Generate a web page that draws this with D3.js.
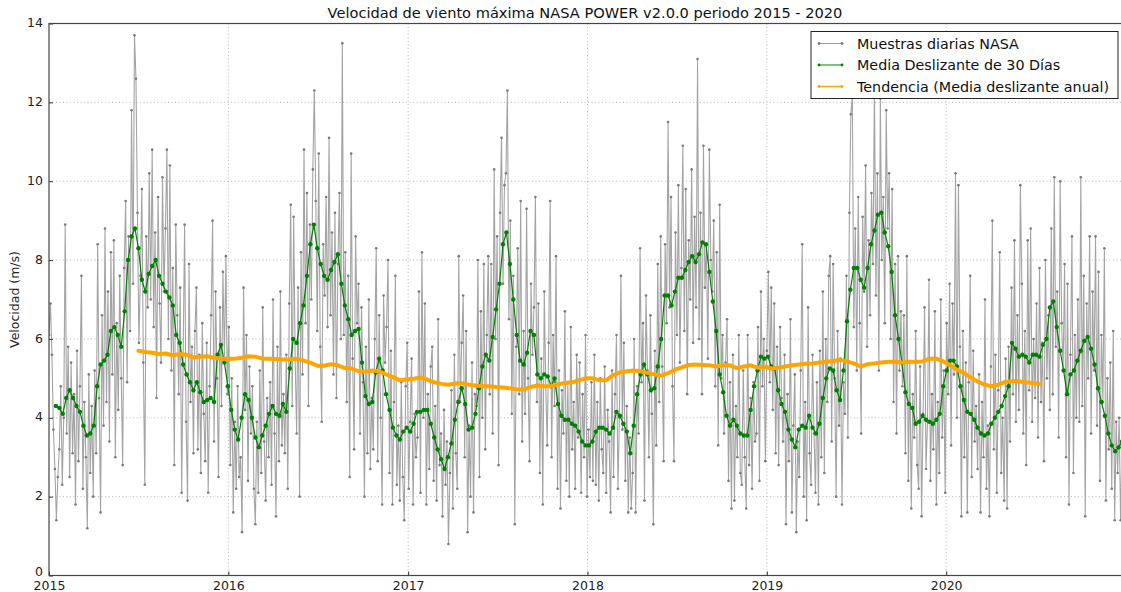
<!DOCTYPE html>
<html lang="es">
<head>
    <meta charset="UTF-8">
    <title>Velocidad de viento máxima NASA POWER</title>
    <script src="https://cdn.jsdelivr.net/npm/d3@7"></script>
    <style>
        body {
            margin: 0;
            background: #fff;
            font-family: 'DejaVu Sans', sans-serif;
        }
        svg { display: block; }
        .tick text { font-family: 'DejaVu Sans', sans-serif; font-size: 12.5px; fill: #222; }
    </style>
</head>
<body>
    <svg id="chart" width="1121" height="592"></svg>

    <script>
        // daily samples (one value read every 3 days, starting 2015-01-01)
        const dailyStart = "2015-01-01";
        const dailyStep = 3;
        const dailyValues = [
            6.1, 6.9, 5.6, 3.7, 2.7, 1.4, 2.5, 3.2, 4.8, 2.3,
            4.0, 8.9, 3.6, 5.8, 2.5, 5.4, 3.1, 4.6, 1.8, 5.7,
            2.9, 4.8, 7.6, 2.2, 4.4, 3.0, 1.2, 5.1, 2.6, 4.3,
            2.0, 5.2, 3.1, 8.4, 4.5, 1.6, 6.6, 3.8, 8.8, 4.4,
            7.2, 3.4, 8.2, 5.1, 8.5, 3.0, 6.4, 4.2, 7.6, 5.0,
            2.8, 7.8, 9.5, 4.9, 8.6, 6.2, 11.8, 7.4, 13.7, 12.6,
            9.2, 5.9, 7.6, 9.8, 5.4, 2.3, 8.6, 6.8, 10.2, 7.0,
            10.8, 6.3, 8.7, 4.5, 9.6, 6.9, 5.4, 10.1, 7.2, 8.8,
            10.8, 6.0, 10.4, 5.2, 7.8, 2.8, 8.9, 6.6, 4.6, 7.3,
            2.1, 5.6, 8.9, 3.9, 1.9, 7.9, 4.4, 5.8, 3.1, 6.2,
            7.3, 3.2, 5.6, 2.6, 6.4, 4.1, 2.9, 5.9, 2.1, 4.8,
            6.6, 9.0, 3.4, 7.2, 5.0, 2.5, 6.8, 4.3, 7.7, 5.5,
            8.1, 4.6, 6.3, 2.8, 5.0, 1.6, 3.9, 2.2, 4.8, 2.5,
            3.0, 1.1, 7.3, 4.2, 6.1, 2.4, 5.3, 3.6, 4.8, 2.2,
            1.3, 3.9, 2.1, 5.2, 2.6, 6.8, 3.4, 1.9, 4.5, 3.0,
            4.9, 2.3, 7.0, 3.6, 1.5, 5.8, 2.9, 7.2, 3.3, 4.6,
            3.1, 5.6, 2.2, 6.9, 9.4, 4.3, 9.1, 5.5, 3.6, 7.3,
            2.0, 8.2, 5.1, 10.8, 6.4, 9.7, 4.3, 8.9, 7.0, 10.3,
            12.3, 9.5, 6.2, 10.7, 5.8, 3.9, 8.4, 7.1, 9.6, 6.3,
            11.1, 6.6, 8.7, 5.1, 9.2, 4.5, 7.9, 9.7, 6.0, 13.5,
            6.1, 8.2, 4.4, 7.6, 2.5, 10.7, 5.5, 3.2, 8.6, 6.4,
            7.4, 3.6, 6.8, 4.9, 2.0, 5.8, 3.1, 7.0, 2.7, 4.5,
            3.2, 6.0, 8.3, 2.9, 6.6, 4.0, 1.8, 7.1, 5.4, 6.3,
            8.0, 2.6, 5.7, 1.8, 4.4, 7.6, 2.3, 3.8, 1.9, 4.9,
            2.5, 1.4, 4.8, 5.9, 2.2, 3.9, 5.5, 1.8, 4.1, 3.0,
            3.5, 7.2, 2.1, 8.2, 4.0, 6.9, 1.8, 4.6, 2.7, 5.3,
            5.8, 2.4, 4.3, 1.9, 6.5, 2.8, 3.6, 1.5, 4.2, 2.3,
            3.4, 0.8, 2.6, 4.7, 1.7, 5.6, 3.1, 2.2, 8.1, 4.4,
            5.9, 7.1, 3.0, 6.2, 1.1, 3.8, 2.0, 5.4, 1.6, 4.6,
            4.3, 8.0, 2.5, 6.7, 4.0, 7.9, 3.2, 6.1, 8.1, 4.6,
            7.9, 3.6, 10.3, 6.0, 8.6, 2.8, 9.2, 11.1, 7.4, 9.9,
            10.2, 12.3, 6.5, 9.0, 4.1, 7.6, 1.3, 5.8, 8.3, 4.6,
            9.5, 3.4, 6.2, 4.1, 9.3, 5.0, 2.9, 7.4, 5.6, 6.8,
            9.6, 4.4, 6.9, 2.6, 5.5, 1.8, 7.2, 4.8, 3.3, 5.9,
            9.5, 3.0, 6.1, 4.3, 8.1, 2.2, 5.2, 1.7, 4.7, 3.6,
            6.7, 2.4, 4.9, 2.0, 6.3, 3.2, 4.4, 2.2, 5.6, 3.5,
            5.4, 2.1, 4.6, 3.0, 6.1, 2.0, 3.7, 2.5, 4.9, 2.4,
            5.6, 2.3, 4.4, 1.9, 5.0, 3.2, 2.6, 5.3, 2.1, 4.2,
            3.4, 1.6, 5.2, 2.5, 4.6, 6.1, 2.2, 4.0, 7.6, 3.7,
            5.9, 2.4, 4.3, 1.6, 3.5, 1.7, 2.6, 6.0, 1.6, 4.8,
            3.6, 8.3, 4.9, 6.4, 1.9, 7.1, 5.2, 3.0, 6.6, 4.1,
            1.3, 5.7, 3.3, 7.9, 4.4, 8.6, 5.3, 2.9, 8.4, 6.4,
            11.5, 6.8, 9.6, 4.8, 2.9, 8.7, 6.1, 9.9, 5.4, 7.8,
            10.9, 6.2, 9.8, 4.6, 8.5, 7.0, 10.3, 5.9, 9.1, 6.8,
            13.1, 6.0, 9.2, 4.6, 10.9, 7.3, 8.4, 5.5, 10.8, 8.0,
            7.2, 9.0, 4.8, 8.2, 3.3, 9.4, 5.0, 6.1, 3.6, 5.4,
            6.5, 2.4, 4.9, 1.7, 5.6, 1.9, 4.3, 3.0, 6.1, 2.6,
            2.3, 5.2, 3.0, 1.7, 6.1, 2.8, 4.5, 2.2, 4.9, 3.4,
            3.6, 6.3, 2.4, 7.2, 4.8, 6.0, 2.9, 5.7, 7.7, 4.9,
            7.3, 4.2, 6.9, 3.1, 5.8, 2.8, 6.3, 4.5, 3.4, 5.6,
            1.3, 4.6, 2.9, 6.5, 1.6, 3.8, 5.1, 1.1, 3.4, 2.5,
            5.2, 8.4, 2.0, 4.4, 1.4, 6.8, 3.1, 2.3, 5.6, 3.6,
            2.1, 4.9, 1.8, 5.7, 3.0, 7.2, 2.6, 6.0, 4.4, 7.6,
            8.1, 3.4, 7.9, 5.0, 2.0, 6.2, 3.8, 5.5, 1.8, 4.9,
            4.1, 7.6, 3.5, 9.2, 11.7, 12.2, 6.3, 8.8, 5.2, 9.6,
            6.4, 3.6, 9.1, 7.2, 10.4, 5.8, 8.5, 6.6, 9.7, 7.9,
            12.5, 7.1, 10.2, 5.2, 12.1, 8.0, 9.6, 6.4, 11.8, 8.8,
            10.2, 6.0, 9.8, 4.4, 7.9, 3.6, 8.1, 5.2, 6.7, 4.8,
            6.6, 3.1, 8.1, 2.4, 5.4, 1.7, 4.6, 3.5, 6.2, 2.8,
            2.2, 5.3, 1.5, 4.1, 6.8, 2.7, 3.9, 7.5, 2.4, 4.6,
            3.2, 6.7, 1.8, 4.4, 2.6, 7.0, 3.5, 5.2, 2.1, 6.4,
            4.6, 7.4, 3.3, 6.9, 5.1, 10.2, 4.0, 9.9, 5.8, 1.5,
            6.2, 3.0, 5.4, 1.6, 4.9, 7.6, 2.5, 5.7, 3.4, 4.3,
            2.7, 5.1, 1.6, 4.4, 3.0, 7.0, 2.2, 3.8, 1.5, 5.3,
            9.0, 3.2, 5.6, 2.1, 4.7, 8.2, 2.6, 4.0, 1.9, 5.5,
            1.7, 5.8, 3.4, 7.3, 4.6, 8.5, 3.9, 6.6, 4.2, 9.9,
            7.4, 3.6, 6.2, 2.8, 8.5, 4.7, 8.8, 3.9, 6.0, 4.5,
            6.9, 3.5, 7.8, 4.4, 5.9, 2.9, 8.0, 5.0, 6.6, 4.2,
            8.8, 4.6, 10.1, 5.8, 7.2, 3.5, 10.0, 6.4, 5.2, 7.9,
            3.0, 7.4, 1.8, 5.6, 8.6, 2.6, 6.1, 4.0, 7.0, 3.9,
            10.1, 4.3, 7.6, 1.5, 6.9, 5.0, 8.6, 3.6, 7.2, 5.2,
            8.6, 3.8, 7.7, 2.4, 6.1, 4.4, 8.3, 1.9, 5.0, 3.2,
            5.4, 2.2, 6.2, 1.4, 3.9, 2.6, 4.0, 1.4, 3.3, 2.0
        ];

        // 30-day moving average (one value read per week, starting 2015-01-15)
        const maStart = "2015-01-15";
        const maStep = 7;
        const maValues = [
            4.3, 4.25, 4.1, 4.5, 4.7, 4.5, 4.3, 4.15, 3.8, 3.55, 3.6, 3.8, 4.8, 5.35, 5.45, 5.6, 6.2,
            6.3, 6.1, 5.8, 6.7, 8.0, 8.6, 8.8, 8.3, 7.5, 7.2, 7.65, 7.85, 8.0, 7.6, 7.4, 7.2, 7.05,
            6.85, 6.1, 5.9, 5.35, 5.1, 4.9, 4.7, 4.9, 4.65, 4.4, 4.45, 4.5, 4.4, 5.6, 5.85, 5.4, 4.8,
            4.2, 3.7, 3.45, 4.0, 4.6, 4.45, 4.0, 3.5, 3.25, 3.55, 3.8, 4.1, 4.3, 4.1, 4.05, 4.35, 4.15,
            5.25, 6.0, 5.9, 6.4, 6.85, 7.6, 8.4, 8.9, 8.3, 7.9, 7.6, 7.5, 7.75, 7.95, 8.15, 7.4, 6.85,
            6.5, 6.1, 6.2, 6.25, 5.4, 4.55, 4.35, 4.4, 5.15, 5.5, 5.2, 4.6, 4.2, 3.75, 3.55, 3.45, 3.65, 3.75,
            3.65, 3.85, 4.15, 4.15, 4.2, 4.2, 3.85, 3.5, 3.2, 2.95, 2.7, 3.0, 3.35, 3.95, 4.4, 4.75, 4.35,
            3.7, 3.75, 4.1, 4.75, 5.3, 5.6, 5.45, 6.05, 6.75, 7.4, 8.4, 8.7, 7.9, 7.0, 6.1, 5.45, 5.35,
            5.65, 6.2, 6.1, 5.1, 5.0, 5.1, 5.05, 4.8, 5.0, 4.35, 4.05, 3.95, 3.95, 3.85, 3.8, 3.65, 3.4, 3.3,
            3.3, 3.4, 3.65, 3.75, 3.75, 3.7, 3.6, 3.75, 4.15, 4.05, 3.85, 3.65, 3.1, 3.8, 4.6, 5.1, 5.35,
            5.1, 4.7, 4.75, 5.3, 6.0, 7.1, 7.1, 6.85, 7.2, 7.55, 7.55, 7.75, 7.95, 8.1, 7.95, 8.15, 8.45,
            8.4, 7.7, 6.95, 6.2, 5.1, 4.65, 4.05, 3.8, 3.95, 3.8, 3.6, 3.55, 3.55, 4.2, 4.8, 5.2, 5.55, 5.5,
            5.55, 5.3, 5.25, 4.7, 4.35, 4.15, 3.7, 3.45, 3.25, 3.7, 3.8, 3.75, 4.05, 3.75, 3.6, 3.85, 4.5,
            5.0, 5.25, 5.2, 4.7, 4.45, 5.2, 6.45, 7.25, 7.8, 7.8, 7.5, 7.3, 7.8, 8.4, 8.75, 9.15, 9.2,
            8.7, 8.35, 7.7, 6.6, 6.0, 5.4, 4.65, 4.35, 4.25, 3.85, 3.9, 4.05, 3.95, 3.9, 3.85, 3.95, 4.1, 4.8,
            5.2, 5.45, 5.45, 5.3, 4.8, 4.45, 4.15, 4.1, 3.95, 3.75, 3.6, 3.55, 3.6, 3.85, 4.0, 4.15, 4.3,
            4.55, 4.8, 5.9, 5.75, 5.55, 5.6, 5.55, 5.4, 5.6, 5.6, 5.55, 5.85, 6.0, 6.8, 6.95, 6.3, 5.7,
            5.2, 4.6, 5.1, 5.2, 5.45, 5.7, 5.95, 6.05, 5.75, 5.35, 4.75, 4.4, 4.05, 3.6, 3.3, 3.15, 3.25, 3.4
        ];

        // yearly moving average (one value read every 14 days, starting 2015-07-02)
        const trendStart = "2015-07-02";
        const trendStep = 14;
        const trendValues = [
            5.7, 5.67, 5.65, 5.62, 5.63, 5.58, 5.62, 5.6, 5.53, 5.55, 5.56, 5.52, 5.5, 5.5,
            5.5, 5.52, 5.56, 5.55, 5.5, 5.5, 5.49, 5.48, 5.48, 5.5, 5.45, 5.4, 5.32, 5.32, 5.36,
            5.33, 5.26, 5.25, 5.18, 5.17, 5.2, 5.18, 5.1, 5.03, 4.95, 4.97,
            4.99, 5.02, 4.97, 4.9, 4.86, 4.84, 4.87, 4.88, 4.84, 4.82, 4.8, 4.8, 4.78, 4.77,
            4.75, 4.72, 4.72, 4.78, 4.82, 4.8, 4.8, 4.85, 4.88, 4.9, 4.95, 5.0,
            5.0, 4.96, 4.95, 5.08, 5.15, 5.18, 5.2, 5.18, 5.14, 5.1, 5.07, 5.13, 5.22, 5.28,
            5.34, 5.35, 5.34, 5.33, 5.3, 5.33, 5.33, 5.26, 5.3, 5.33, 5.27, 5.3,
            5.25, 5.27, 5.3, 5.33, 5.35, 5.37, 5.38, 5.4, 5.42, 5.44, 5.47, 5.43, 5.38, 5.3,
            5.36, 5.38, 5.4, 5.42, 5.42, 5.4, 5.42, 5.42, 5.43, 5.5, 5.5, 5.43,
            5.33, 5.22, 5.14, 5.02, 4.92, 4.84, 4.8, 4.84, 4.91, 4.93, 4.92, 4.9, 4.88, 4.86
        ];

        const yTicks = [0, 2, 4, 6, 8, 10, 12, 14];
        const xTickYears = [2015, 2016, 2017, 2018, 2019, 2020];
        const seriesNames = [
            "Muestras diarias NASA",
            "Media Deslizante de 30 Días",
            "Tendencia (Media deslizante anual)"
        ];
        const chartTitle = "Velocidad de viento máxima NASA POWER v2.0.0 periodo 2015 - 2020";
        const yLabel = "Velocidad (m/s)";

        const parse = d3.utcParse("%Y-%m-%d");
        function toSeries(start, step, values) {
            const t0 = parse(start);
            return values.map((v, i) => ({ date: d3.utcDay.offset(t0, i * step), value: v }));
        }
        const daily = toSeries(dailyStart, dailyStep, dailyValues);
        const ma30 = toSeries(maStart, maStep, maValues);
        const trend = toSeries(trendStart, trendStep, trendValues);

        // plot area (right edge falls just outside the picture, like the original)
        const plotLeft = 49, plotRight = 1126, plotTop = 23.5, plotBottom = 575.5;

        const svg = d3.select("#chart");

        const x = d3.scaleUtc()
            .domain([new Date(Date.UTC(2015, 0, 1)), new Date(Date.UTC(2021, 0, 1))])
            .range([plotLeft, plotRight]);
        const y = d3.scaleLinear().domain([0, 14]).range([plotBottom, plotTop]);

        svg.append("clipPath").attr("id", "plot-clip")
            .append("rect")
            .attr("x", plotLeft).attr("y", plotTop)
            .attr("width", plotRight - plotLeft).attr("height", plotBottom - plotTop);

        // grid
        const grid = svg.append("g").attr("stroke", "#555").attr("stroke-width", 0.6)
            .attr("stroke-dasharray", "1,2.5").attr("opacity", 0.7);
        grid.selectAll(".gx")
            .data(xTickYears.slice(1))
            .enter().append("line")
            .attr("x1", d => x(new Date(Date.UTC(d, 0, 1))))
            .attr("x2", d => x(new Date(Date.UTC(d, 0, 1))))
            .attr("y1", plotTop).attr("y2", plotBottom);
        grid.selectAll(".gy")
            .data(yTicks.slice(1, -1))
            .enter().append("line")
            .attr("x1", plotLeft).attr("x2", plotRight)
            .attr("y1", d => y(d)).attr("y2", d => y(d));

        const plot = svg.append("g").attr("clip-path", "url(#plot-clip)");
        const line = d3.line().x(d => x(d.date)).y(d => y(d.value));

        // daily samples
        plot.append("path")
            .datum(daily)
            .attr("d", line)
            .attr("fill", "none")
            .attr("stroke", "#a4a4a4")
            .attr("stroke-width", 1.1);
        plot.append("g").selectAll("circle")
            .data(daily)
            .enter().append("circle")
            .attr("cx", d => x(d.date))
            .attr("cy", d => y(d.value))
            .attr("r", 1.3)
            .attr("fill", "#7a7a7a");

        // 30 day moving average
        plot.append("path")
            .datum(ma30)
            .attr("d", line)
            .attr("fill", "none")
            .attr("stroke", "#008000")
            .attr("stroke-width", 1.2);
        plot.append("g").selectAll("circle")
            .data(ma30)
            .enter().append("circle")
            .attr("cx", d => x(d.date))
            .attr("cy", d => y(d.value))
            .attr("r", 2.2)
            .attr("fill", "#008000");

        // trend
        plot.append("path")
            .datum(trend)
            .attr("d", line)
            .attr("fill", "none")
            .attr("stroke", "#ffa500")
            .attr("stroke-width", 4)
            .attr("stroke-linejoin", "round")
            .attr("stroke-linecap", "round");

        // axes (ticks inside, like matplotlib classic)
        const yAxis = d3.axisLeft(y).tickValues(yTicks).tickSizeInner(-4).tickSizeOuter(0).tickPadding(6);
        svg.append("g")
            .attr("transform", `translate(${plotLeft},0)`)
            .call(yAxis)
            .call(g => g.select(".domain").remove())
            .call(g => g.selectAll(".tick line").attr("stroke", "#333"))
            .call(g => g.selectAll(".tick text").attr("dy", d => d === 0 ? "-0.02em" : "0.25em"));

        const xAxis = d3.axisBottom(x)
            .tickValues(xTickYears.map(yr => new Date(Date.UTC(yr, 0, 1))))
            .tickFormat(d3.utcFormat("%Y"))
            .tickSizeInner(-4).tickSizeOuter(0).tickPadding(2);
        svg.append("g")
            .attr("transform", `translate(0,${plotBottom})`)
            .call(xAxis)
            .call(g => g.select(".domain").remove())
            .call(g => g.selectAll(".tick line").attr("stroke", "#333"))
            .call(g => g.selectAll(".tick text").attr("dy", "0.98em"));

        // frame
        svg.append("rect")
            .attr("x", plotLeft).attr("y", plotTop)
            .attr("width", plotRight - plotLeft).attr("height", plotBottom - plotTop)
            .attr("fill", "none")
            .attr("stroke", "#444")
            .attr("stroke-width", 1.2);

        // title and axis label
        svg.append("text")
            .attr("x", 585)
            .attr("y", 18)
            .attr("text-anchor", "middle")
            .style("font-size", "14.6px")
            .style("fill", "#111")
            .text(chartTitle);

        svg.append("text")
            .attr("transform", `translate(19,${(plotTop + plotBottom) / 2}) rotate(-90)`)
            .attr("text-anchor", "middle")
            .style("font-size", "12.5px")
            .style("fill", "#222")
            .text(yLabel);

        // legend
        const legend = svg.append("g");
        legend.append("rect")
            .attr("x", 811).attr("y", 31.5)
            .attr("width", 307).attr("height", 67)
            .attr("fill", "#fff")
            .attr("stroke", "#222")
            .attr("stroke-width", 1);

        const legendStyles = [
            { stroke: "#9a9a9a", dot: "#7a7a7a", width: 1 },
            { stroke: "#008000", dot: "#008000", width: 1 },
            { stroke: "#ffa500", dot: "#ffa500", width: 1.5 }
        ];
        const rows = legend.selectAll(".row")
            .data(seriesNames)
            .enter().append("g")
            .attr("transform", (d, i) => `translate(0,${43.5 + i * 21.5})`);
        rows.append("line")
            .attr("x1", 819).attr("x2", 842)
            .attr("stroke", (d, i) => legendStyles[i].stroke)
            .attr("stroke-width", (d, i) => legendStyles[i].width);
        rows.selectAll("circle")
            .data((d, i) => [819, 842].map(cx => ({ cx, i })))
            .enter().append("circle")
            .attr("cx", d => d.cx)
            .attr("r", 1.4)
            .attr("fill", d => legendStyles[d.i].dot);
        rows.append("text")
            .attr("x", 857)
            .attr("dy", "0.35em")
            .style("font-size", "14.3px")
            .style("fill", "#111")
            .text(d => d);
    </script>
</body>
</html>
